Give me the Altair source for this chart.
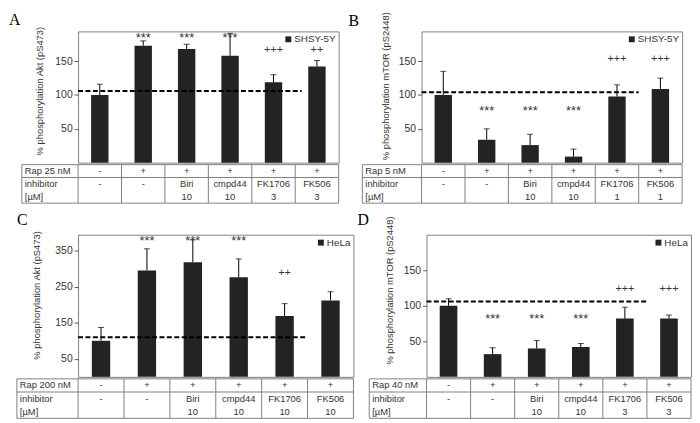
import altair as alt
import pandas as pd

FONT = "Liberation Sans"
BAR_COLOR = "#232323"
FRAME = "#808080"
TEXT = "#333333"

n_cols = 6
rap_signs = ["-", "+", "+", "+", "+", "+"]
inhibitors = ["-", "-", "Biri", "cmpd44", "FK1706", "FK506"]

# Panel A  (SHSY-5Y, Akt pS473)
A_values = [100, 173, 168, 158, 119, 142]
A_err = [116, 180, 175, 191, 130, 151]
A_marks = ["", "***", "***", "***", "+++", "++"]
A_mark_y = [0, 189, 189, 189, 166, 166]
A_conc = ["", "", "10", "10", "3", "3"]
A_ref = 106

# Panel B  (SHSY-5Y, mTOR pS2448)
B_values = [100, 34, 26, 9, 98, 109]
B_err = [135, 50, 42, 20, 115, 125]
B_marks = ["", "***", "***", "***", "+++", "+++"]
B_mark_y = [0, 80, 80, 80, 153, 153]
B_conc = ["", "", "10", "10", "1", "1"]
B_ref = 104

# Panel C  (HeLa, Akt pS473)
C_values = [100, 295, 318, 276, 169, 212]
C_err = [137, 355, 380, 327, 203, 236]
C_marks = ["", "***", "***", "***", "++", ""]
C_mark_y = [0, 386, 386, 386, 289, 0]
C_conc = ["", "", "10", "10", "10", "10"]
C_ref = 110

# Panel D  (HeLa, mTOR pS2448)
D_values = [100, 32, 40, 42, 82, 82]
D_err = [110, 41, 51, 47, 98, 87]
D_marks = ["", "***", "***", "***", "+++", "+++"]
D_mark_y = [0, 85, 85, 85, 123, 123]
D_conc = ["", "", "10", "10", "3", "3"]
D_ref = 106


def panel(letter, cell, ytitle, values, errs, marks, mark_y, ref, ref_end, ymax,
          ticks, rap_label, conc, plot_w, plot_h, table_h, label_px,
          letter_dx, letter_dy, title_y, title_pad):
    col_w = plot_w / n_cols
    k = label_px / col_w
    df = pd.DataFrame({
        "i": list(range(n_cols)),
        "value": values, "err": errs, "mark": marks, "mark_y": mark_y,
        "cell": [cell] * n_cols,
    })
    df["zero"] = 0
    df["xl"] = df["i"] + 0.3
    df["xr"] = df["i"] + 0.7
    df["xc"] = df["i"] + 0.5
    xs = alt.Scale(domain=[0, n_cols], nice=False, zero=False)
    ys = alt.Scale(domain=[0, ymax], nice=False)
    base = alt.Chart(df)
    bars = base.mark_bar(color=BAR_COLOR).encode(
        x=alt.X("xl:Q", scale=xs, axis=None),
        x2="xr:Q",
        y=alt.Y("value:Q", scale=ys, stack=None, axis=alt.Axis(
            values=ticks, title=ytitle, domain=False, grid=False,
            labelOverlap=False, labelSeparation=0, labelFlush=False,
            tickColor="#555555", tickSize=4, labelColor=TEXT,
            labelFont=FONT, labelFontSize=10.5, labelPadding=2,
            titleFont=FONT, titleFontSize=9.5, titleFontWeight="normal",
            titleColor=TEXT, titlePadding=title_pad, titleY=title_y)),
        y2="zero:Q",
        color=alt.Color("cell:N", scale=alt.Scale(range=[BAR_COLOR]),
                        legend=alt.Legend(orient="top-right", title=None,
                                          symbolType="square", symbolSize=36,
                                          symbolStrokeWidth=0, labelFont=FONT,
                                          labelFontSize=10, labelColor=TEXT,
                                          offset=3, padding=0, labelOffset=1)),
    )
    err_rule = base.mark_rule(color="black", strokeWidth=1).encode(
        x=alt.X("xc:Q", scale=xs), y=alt.Y("value:Q", scale=ys), y2="err:Q")
    caps = base.mark_tick(orient="horizontal", size=6, thickness=1,
                          color="black").encode(
        x=alt.X("xc:Q", scale=xs), y=alt.Y("err:Q", scale=ys))
    ref_df = pd.DataFrame({"x0": [0], "x1": [ref_end], "y": [ref]})
    ref_rule = alt.Chart(ref_df).mark_rule(
        strokeDash=[5, 2.5], strokeWidth=2, color="black").encode(
        x=alt.X("x0:Q", scale=xs), x2="x1:Q", y=alt.Y("y:Q", scale=ys))
    stars = base.transform_filter("datum.mark == '***'").mark_text(
        font=FONT, fontSize=13, color=TEXT, baseline="middle", dy=3).encode(
        x=alt.X("xc:Q", scale=xs), y=alt.Y("mark_y:Q", scale=ys),
        text="mark:N")
    plus = base.transform_filter(
        "datum.mark != '' && datum.mark != '***'").mark_text(
        font=FONT, fontSize=11, color=TEXT, baseline="middle").encode(
        x=alt.X("xc:Q", scale=xs), y=alt.Y("mark_y:Q", scale=ys),
        text="mark:N")
    letter_t = alt.Chart(pd.DataFrame({"t": [letter]})).mark_text(
        font="Liberation Serif", fontSize=16, align="left",
        baseline="middle", color="black").encode(
        x=alt.value(-letter_dx), y=alt.value(-letter_dy), text="t:N")
    bar_layer = alt.layer(bars, err_rule, caps, ref_rule, stars, plus,
                          letter_t).properties(
        width=plot_w, height=plot_h,
        view=alt.ViewBackground(stroke=FRAME, strokeWidth=1))

    # table below the plot
    lines = []
    for yv in [0, 1, 3]:
        lines.append({"x0": -k, "x1": n_cols, "y0": yv, "y1": yv})
    for xv in [-k] + list(range(n_cols + 1)):
        lines.append({"x0": xv, "x1": xv, "y0": 0, "y1": 3})
    lines_df = pd.DataFrame(lines)
    txs = alt.Scale(domain=[0, n_cols], nice=False, zero=False)
    tys = alt.Scale(domain=[0, 3], nice=False, reverse=True)
    grid = alt.Chart(lines_df).mark_rule(color=FRAME, strokeWidth=1).encode(
        x=alt.X("x0:Q", scale=txs, axis=None), x2="x1:Q",
        y=alt.Y("y0:Q", scale=tys, axis=None), y2="y1:Q")
    lab_df = pd.DataFrame({"x": [-k] * 3, "y": [0.5, 1.5, 2.5],
                           "t": [rap_label, "inhibitor", "[\u00b5M]"]})
    labels = alt.Chart(lab_df).mark_text(
        font=FONT, fontSize=9.5, color=TEXT, align="left", dx=3,
        baseline="middle").encode(
        x=alt.X("x:Q", scale=txs, axis=None),
        y=alt.Y("y:Q", scale=tys, axis=None), text="t:N")
    cells = []
    for i in range(n_cols):
        cells.append({"x": i + 0.5, "y": 0.5, "t": rap_signs[i]})
        cells.append({"x": i + 0.5, "y": 1.5, "t": inhibitors[i]})
        cells.append({"x": i + 0.5, "y": 2.5, "t": conc[i]})
    cell_df = pd.DataFrame(cells)
    cell_txt = alt.Chart(cell_df).transform_filter("datum.t != ''").mark_text(
        font=FONT, fontSize=9.5, color=TEXT, align="center",
        baseline="middle").encode(
        x=alt.X("x:Q", scale=txs, axis=None),
        y=alt.Y("y:Q", scale=tys, axis=None), text="t:N")
    table = alt.layer(grid, labels, cell_txt).properties(
        width=plot_w, height=table_h,
        view=alt.ViewBackground(stroke="transparent"))
    return alt.vconcat(bar_layer, table, spacing=0).resolve_scale(
        color="independent").resolve_legend(color="independent")


pA = panel("A", "SHSY-5Y", "% phosphorylation Akt (pS473)", A_values, A_err,
           A_marks, A_mark_y, A_ref, 5.15, 194, [50, 100, 150], "Rap 25 nM",
           A_conc, 264, 133, 39, 57, 70, 12, 60, 11)
pB = panel("B", "SHSY-5Y", "% phosphorylation mTOR (pS2448)", B_values, B_err,
           B_marks, B_mark_y, B_ref, 5.0, 194, [50, 100, 150], "Rap 5 nM",
           B_conc, 264, 133, 39, 60, 74, 10, 55, 8)
pC = panel("C", "HeLa", "% phosphorylation Akt (pS473)", C_values, C_err,
           C_marks, C_mark_y, C_ref, 5.0, 394,
           [50, 100, 150, 200, 250, 300, 350], "Rap 200 nM",
           C_conc, 279, 144, 40, 62, 62, 15, 61, 14)
pD = panel("D", "HeLa", "% phosphorylation mTOR (pS2448)", D_values, D_err,
           D_marks, D_mark_y, D_ref, 5.0, 200, [50, 100, 150], "Rap 40 nM",
           D_conc, 268, 144, 40, 58, 70, 15, 56, 9)

row1 = alt.hconcat(pA, pB, spacing=8).resolve_scale(
    color="independent").resolve_legend(color="independent")
row2 = alt.hconcat(pC, pD, spacing=2).resolve_scale(
    color="independent").resolve_legend(color="independent")

chart = alt.vconcat(row1, row2, spacing=7).properties(
    padding=0, background="white").resolve_scale(
    color="independent").resolve_legend(color="independent"
).configure_axis(labelOverlap=False)

chart.save("out.html", embed_options={"renderer": "svg", "actions": False})
